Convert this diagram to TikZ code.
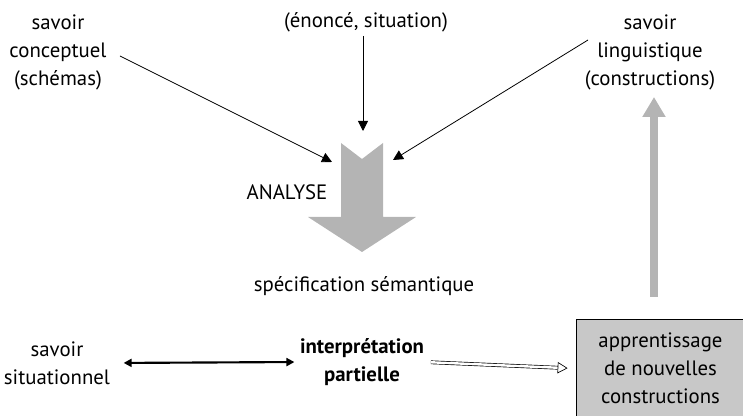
\documentclass[tikz,border=0pt]{standalone}
\usepackage{fontspec}
\setmainfont{PT Sans}
\usetikzlibrary{arrows.meta,positioning}
\definecolor{flowgray}{RGB}{180,180,180}
\definecolor{boxgray}{RGB}{200,200,200}

\begin{document}
\begin{tikzpicture}[x=0.75pt,y=-0.75pt,
  lbl/.style={align=center,inner sep=0pt,font=\fontsize{15.6}{21}\selectfont},
  feed/.style={-{Triangle[length=7.5pt,width=7.5pt]},line width=0.6pt},
  link/.style={{Triangle[length=6pt,width=6pt]}-{Triangle[length=6pt,width=6pt]},line width=1.6pt},
  gives/.style={-{Triangle[open,length=7.5pt,width=8.5pt]},double,double distance=1.8pt,line width=0.5pt},
  learnbox/.style={draw,fill=boxgray,line width=0.6pt,minimum width=126.75pt,minimum height=74.25pt,inner sep=0pt}]
\useasboundingbox (0,0) rectangle (743,416);
  % sources
  \node[lbl] (concept) at (58,52)  {savoir\\conceptuel\\(schémas)};
  \node[lbl] (enonce)  at (366,22) {(énoncé, situation)};
  \node[lbl] (ling)    at (650,52) {savoir\\linguistique\\(constructions)};
  \node[lbl] (analyse) at (287,192) {ANALYSE};
  \node[lbl] (spec)    at (364,286) {spécification sémantique};
  \node[lbl] (situ)    at (57,363) {savoir\\situationnel};
  \node[lbl,font=\fontsize{15.6}{21}\selectfont\bfseries] (interp) at (362,362) {interprétation\\partielle};
  \node[learnbox,lbl] (learn) at (660.5,368.5) {apprentissage\\de nouvelles\\constructions};
  % big arrow
  \fill[flowgray] (341,143) -- (362,159) -- (383,143) -- (383,217) -- (416,217)
    -- (362,252) -- (308,217) -- (341,217) -- cycle;
  \coordinate (cfrom) at (120,56);
  \coordinate (cto)   at (332,162);
  \coordinate (efrom) at (363,36);
  \coordinate (eto)   at (363,131);
  \coordinate (lfrom) at (588,40);
  \coordinate (lto)   at (393,160);
  \coordinate (upfrom) at (654,297);
  \coordinate (upto)   at (654,97);
\path (cfrom) edge [feed] (cto)
      (efrom) edge [feed] (eto)
      (lfrom) edge [feed] (lto);
\path (situ.east)   edge [link,shorten <=10pt,shorten >=4pt] (interp.west)
      (interp.east) edge [gives,shorten <=5pt,shorten >=6pt] (learn.west);
\draw[flowgray,line width=6pt,-{Triangle[length=15pt,width=16.5pt]}] (upfrom) -- (upto);
\end{tikzpicture}
\end{document}
